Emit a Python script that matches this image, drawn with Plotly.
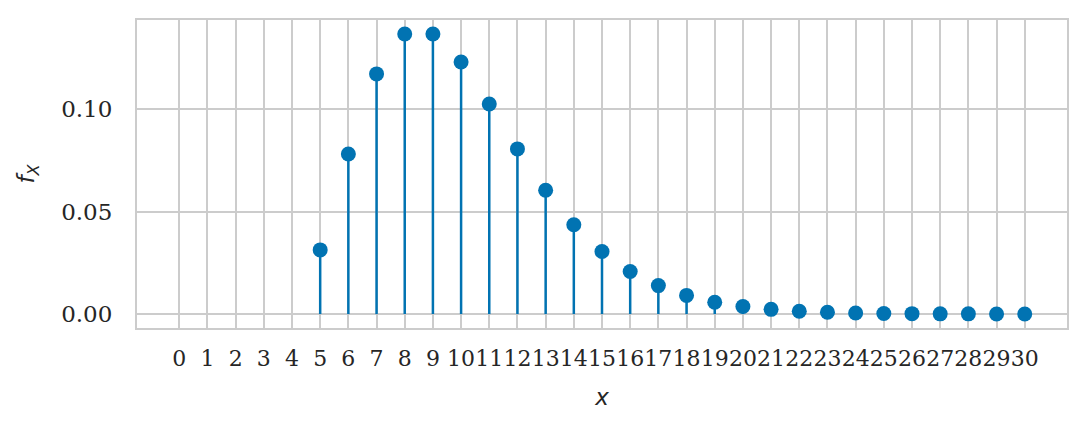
import plotly.graph_objects as go

x_vals = list(range(5, 31))
f_vals = [0.0313, 0.0781, 0.1172, 0.1367, 0.1367, 0.1230, 0.1025, 0.0806,
          0.0604, 0.0436, 0.0305, 0.0208, 0.0139, 0.0091, 0.0058, 0.0037,
          0.0023, 0.0014, 0.0009, 0.0005, 0.0003, 0.0002, 0.0001, 0.0001,
          0.0000, 0.0000]
x_ticks = list(range(0, 31))

BLUE = "#0173b2"
GRID = "#cccccc"
TEXT = "#262626"
SERIF = "DejaVu Serif"

# stems as one line trace with gaps
stem_x, stem_y = [], []
for xv, fv in zip(x_vals, f_vals):
    stem_x += [xv, xv, None]
    stem_y += [0, fv, None]

fig = go.Figure()
fig.add_trace(go.Scatter(x=stem_x, y=stem_y, mode="lines",
                         line=dict(color=BLUE, width=2.5), hoverinfo="skip"))
fig.add_trace(go.Scatter(x=x_vals, y=f_vals, mode="markers",
                         marker=dict(color=BLUE, size=15)))

fig.update_layout(
    width=1086, height=432,
    margin=dict(l=137, r=19, t=20, b=104),
    paper_bgcolor="white", plot_bgcolor="white",
    showlegend=False,
    font=dict(family=SERIF, size=22, color=TEXT),
)
fig.update_xaxes(
    range=[-1.5, 31.5], tickmode="array", tickvals=x_ticks,
    ticktext=[str(t) for t in x_ticks], tickangle=0,
    showgrid=True, gridcolor=GRID, gridwidth=1.5,
    showline=True, mirror=True, linecolor=GRID, linewidth=2,
    zeroline=False, ticks="", ticklabelstandoff=10,
    title=dict(text="<i>x</i>", font=dict(family="DejaVu Sans", size=23), standoff=18),
)
fig.update_yaxes(
    range=[-0.0068, 0.1435], tickmode="array", tickvals=[0, 0.05, 0.10],
    ticktext=["0.00", "0.05", "0.10"], tickfont=dict(size=23),
    showgrid=True, gridcolor=GRID, gridwidth=1.5,
    showline=True, mirror=True, linecolor=GRID, linewidth=2,
    zeroline=False, ticks="", ticklabelstandoff=18,
    title=dict(text="<i>f</i><sub><i>X</i></sub>", font=dict(family="DejaVu Sans", size=23), standoff=20),
)

fig.write_html("out.html", config={"displayModeBar": False},
               post_script="document.body.style.margin='0';")
